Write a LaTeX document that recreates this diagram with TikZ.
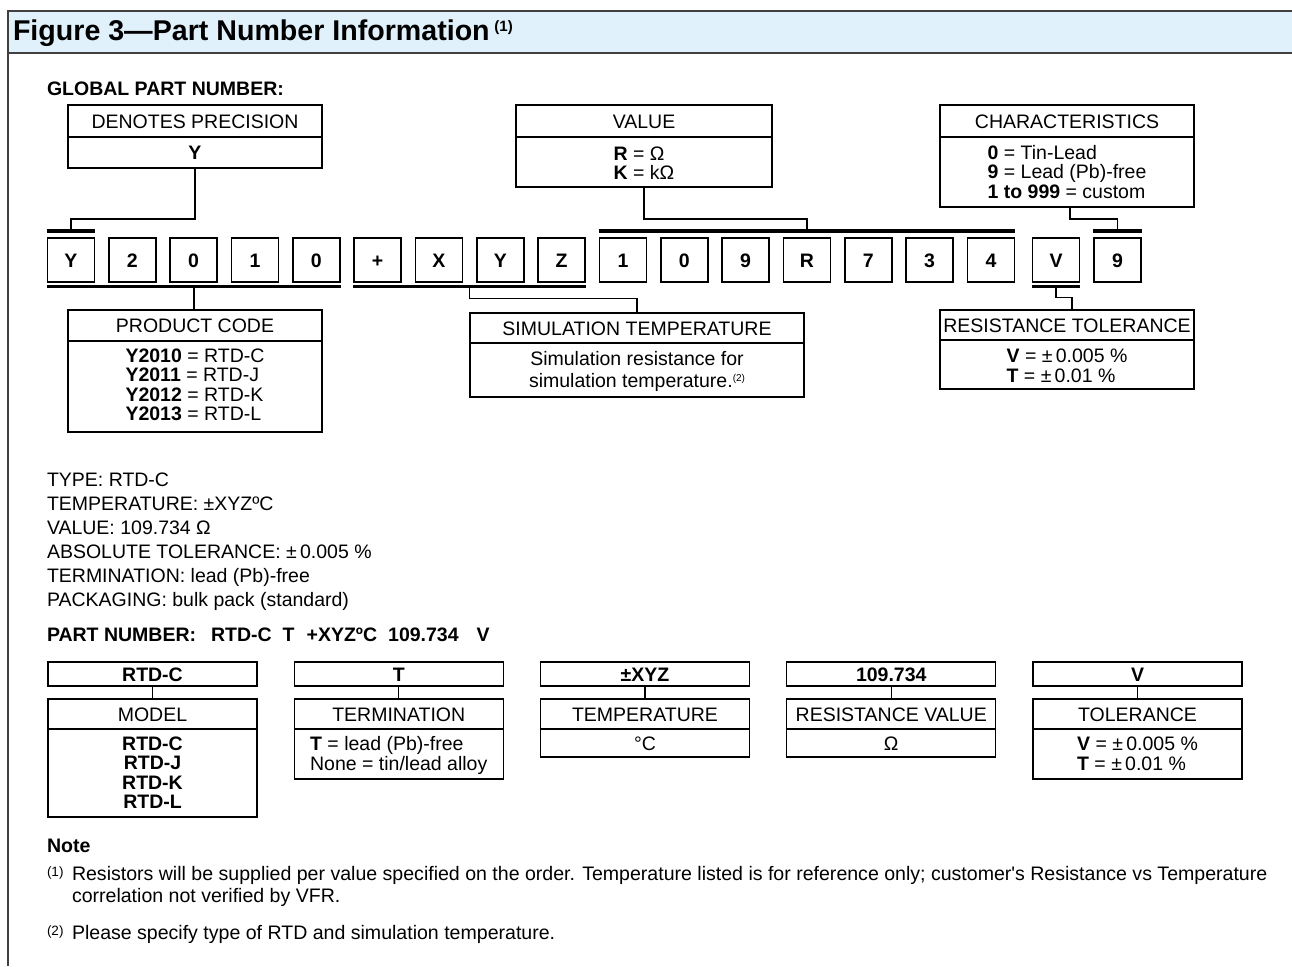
\documentclass[tikz,border=0pt]{standalone}
\usepackage{fontspec}
\setmainfont{Liberation Sans}
\definecolor{hdrblue}{HTML}{E0F1FB}
\definecolor{hdrline}{HTML}{404040}
\newcommand\fs{\fontsize{19.5}{19.5}\selectfont}
\newcommand\fnote{\fontsize{19.55}{22}\selectfont}
\newcommand\linesL[2]{\fontsize{19.5}{#1}\selectfont\begin{tabular}[t]{@{}l@{}}#2\end{tabular}}
\newcommand\linesC[2]{\fontsize{19.5}{#1}\selectfont\begin{tabular}[t]{@{}c@{}}#2\end{tabular}}
\begin{document}
\begin{tikzpicture}[x=1pt,y=-1pt,
  cell/.style args={#1/#2}{draw, line width=1.4pt, inner sep=0pt, outer sep=0pt,
     minimum width=#1, minimum height=#2, font=\fs, text height=14pt, text depth=0pt},
  digit/.style={draw, line width=1.8pt, inner sep=0pt, outer sep=0pt, minimum width=47,
     minimum height=44, font=\fs\bfseries, text height=14pt, text depth=0pt},
  bar/.style={line width=3.5pt},
  conn/.style={line width=1.4pt},
  txt/.style={inner sep=0pt, outer sep=0pt, font=\fs},
  fnmark/.style={inner sep=0pt, outer sep=0pt, font=\fontsize{13.5}{13.5}\selectfont, anchor=base west},
]
\useasboundingbox (0,0) rectangle (1292,966);
% header
\fill[hdrblue] (8,11) rectangle (1292,53);
\draw[hdrline, line width=2pt] (1292,11) -- (8,11) -- (8,966);
\draw[hdrline, line width=2pt] (8,53) -- (1292,53);
\node[txt, anchor=base west, font=\fontsize{28.6}{28.6}\selectfont\bfseries] (title) at (13,41)
  {Figure 3—Part Number Information\,\raisebox{9pt}{\fontsize{15}{15}\selectfont(1)}};

\node[txt, anchor=base west, font=\fs\bfseries] (gpn) at (47,95) {GLOBAL PART NUMBER:};

% top boxes
\node[cell=254/32] (dpH) at (195,121) {DENOTES PRECISION};
\node[cell=254/31, font=\fs\bfseries] (dpB) at (195,152.5) {Y};

\node[cell=256/32] (vaH) at (644,121) {VALUE};
\node[cell=256/50] (vaB) at (644,162) {};
\node[txt, anchor=base] (vaT) at (644,160) {\linesL{18}{\textbf{R} = Ω\\\textbf{K} = kΩ}};

\node[cell=254/32] (chH) at (1067,121) {CHARACTERISTICS};
\node[cell=254/70] (chB) at (1067,172) {};
\node[txt, anchor=base] (chT) at (1067,159) {\linesL{19.5}{\textbf{0} = Tin-Lead\\\textbf{9} = Lead (Pb)-free\\\textbf{1 to 999} = custom}};

% digit row
\foreach \ch [count=\i from 0] in {Y,2,0,1,0,+,X,Y,Z,1,0,9,R,7,3,4}
  \node[digit] (d\i) at (71+61.33*\i,260) {\ch};
\node[digit] (d16) at (1056,260) {V};
\node[digit] (d17) at (1117.5,260) {9};

% bars (span the boxes they group)
\coordinate (bY) at (71,231);
\coordinate (bVal) at (807,231);
\coordinate (bCh) at (1117.5,231);
\coordinate (bPC) at (194,286.5);
\coordinate (bST) at (469.5,286.5);
\coordinate (bRT) at (1056,286.5);
\draw[bar] ([xshift=-0.9pt]d0.west |- bY) -- ([xshift=0.9pt]d0.east |- bY);
\draw[bar] ([xshift=-0.9pt]d9.west |- bVal) -- ([xshift=0.9pt]d15.east |- bVal);
\draw[bar] ([xshift=-0.9pt]d17.west |- bCh) -- ([xshift=0.9pt]d17.east |- bCh);
\draw[bar] ([xshift=-0.9pt]d0.west |- bPC) -- ([xshift=0.9pt]d4.east |- bPC);
\draw[bar] ([xshift=-0.9pt]d5.west |- bST) -- ([xshift=0.9pt]d8.east |- bST);
\draw[bar] ([xshift=-0.9pt]d16.west |- bRT) -- ([xshift=0.9pt]d16.east |- bRT);

% lower top-row boxes
\node[cell=254/31] (pcH) at (195,325.5) {PRODUCT CODE};
\node[cell=254/91] (pcB) at (195,386.5) {};
\node[txt, anchor=base] (pcT) at (195,362) {\linesL{19.5}{\textbf{Y2010} = RTD-C\\\textbf{Y2011} = RTD-J\\\textbf{Y2012} = RTD-K\\\textbf{Y2013} = RTD-L}};

\node[cell=334/30] (stH) at (637,328) {SIMULATION TEMPERATURE};
\node[cell=334/54] (stB) at (637,370) {};
\node[txt, anchor=base] (stT) at (637,365) {\linesC{22}{Simulation resistance for\\simulation temperature.\raisebox{6pt}{\fontsize{10}{10}\selectfont(2)}}};

\node[cell=254/30] (rtH) at (1067,325) {RESISTANCE TOLERANCE};
\node[cell=254/49] (rtB) at (1067,364.5) {};
\node[txt, anchor=base] (rtT) at (1067,362) {\linesL{20}{\textbf{V} = ±\,0.005 \%\\\textbf{T} = ±\,0.01 \%}};

% connectors
\draw[conn] (dpB.south) -- ++(0,51) -| (bY);
\draw[conn] (vaB.south) -- ++(0,32) -| (bVal);
\draw[conn] ([xshift=3pt]chB.south) -- ++(0,12) -| (bCh);
\draw[conn] (bPC) -- (pcH.north -| bPC);
\draw[conn] (bST) -- ++(0,12) -| (stH.north);
\draw[conn] (bRT) -- ++(0,11) -| ([xshift=5pt]rtH.north);

% description text
\node[txt, anchor=base west] (l1) at (47,486) {TYPE: RTD-C};
\node[txt, anchor=base west] (l2) at (47,510) {TEMPERATURE: ±XYZºC};
\node[txt, anchor=base west] (l3) at (47,534) {VALUE: 109.734 Ω};
\node[txt, anchor=base west] (l4) at (47,558) {ABSOLUTE TOLERANCE: ±\,0.005 \%};
\node[txt, anchor=base west] (l5) at (47,582) {TERMINATION: lead (Pb)-free};
\node[txt, anchor=base west] (l6) at (47,606) {PACKAGING: bulk pack (standard)};
\node[txt, anchor=base west, font=\fs\bfseries] (pn) at (47,641)
  {PART NUMBER:\hspace{15pt}RTD-C\hspace{11pt}T\hspace{12pt}+XYZºC\hspace{11pt}109.734\hspace{18pt}V};

% bottom boxes
\node[cell=209/24, font=\fs\bfseries] (mT) at (152.5,674) {RTD-C};
\node[cell=209/30] (mH) at (152.5,714) {MODEL};
\node[cell=209/88] (mB) at (152.5,773) {};
\node[txt, anchor=base, font=\fs\bfseries] (mX) at (152.5,750) {\linesC{19.5}{RTD-C\\RTD-J\\RTD-K\\RTD-L}};
\draw[conn] (mT.south) -- (mH.north);

\node[cell=209/24, font=\fs\bfseries] (tT) at (398.75,674) {T};
\node[cell=209/30] (tH) at (398.75,714) {TERMINATION};
\node[cell=209/50] (tB) at (398.75,754) {};
\node[txt, anchor=base] (tX) at (398.75,750) {\linesL{20}{\textbf{T} = lead (Pb)-free\\None = tin/lead alloy}};
\draw[conn] (tT.south) -- (tH.north);

\node[cell=209/24, font=\fs\bfseries] (pT) at (645,674) {±XYZ};
\node[cell=209/30] (pH) at (645,714) {TEMPERATURE};
\node[cell=209/28] (pB) at (645,743) {°C};
\draw[conn] (pT.south) -- (pH.north);

\node[cell=209/24, font=\fs\bfseries] (rT) at (891.25,674) {109.734};
\node[cell=209/30] (rH) at (891.25,714) {RESISTANCE VALUE};
\node[cell=209/28] (rB) at (891.25,743) {Ω};
\draw[conn] (rT.south) -- (rH.north);

\node[cell=209/24, font=\fs\bfseries] (oT) at (1137.5,674) {V};
\node[cell=209/30] (oH) at (1137.5,714) {TOLERANCE};
\node[cell=209/50] (oB) at (1137.5,754) {};
\node[txt, anchor=base] (oX) at (1137.5,750) {\linesL{20}{\textbf{V} = ±\,0.005 \%\\\textbf{T} = ±\,0.01 \%}};
\draw[conn] (oT.south) -- (oH.north);

% notes
\node[txt, anchor=base west, font=\fnote\bfseries] (note) at (47,852) {Note};
\node[fnmark] (m1) at (47,876) {(1)};
\node[txt, anchor=base west, font=\fnote] (n1a) at (72,880) {Resistors will be supplied per value specified on the order. Temperature listed is for reference only; customer\textquotesingle s Resistance vs Temperature};
\node[txt, anchor=base west, font=\fnote] (n1b) at (72,902) {correlation not verified by VFR.};
\node[fnmark] (m2) at (47,935) {(2)};
\node[txt, anchor=base west, font=\fnote] (n2) at (72,939) {Please specify type of RTD and simulation temperature.};
\end{tikzpicture}
\end{document}
